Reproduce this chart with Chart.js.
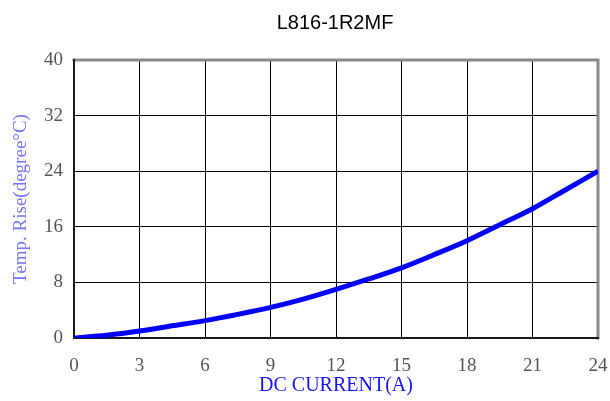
<!DOCTYPE html>
<html>
<head>
<meta charset="utf-8">
<script src="https://cdn.jsdelivr.net/npm/chart.js@4/dist/chart.umd.min.js"></script>
<style>
html,body{margin:0;padding:0;background:#fff;}
#wrap{width:610px;height:401px;position:relative;}
</style>
</head>
<body>
<div id="wrap"><canvas id="c" width="610" height="401"></canvas></div>
<script>
const chartTitle = "L816-1R2MF";
const xAxisTitle = "DC CURRENT(A)";
const yAxisTitle = "Temp. Rise(degree\u00B0C)";
const currentA = [0, 1.5, 3, 4.5, 6, 7.5, 9, 10.5, 12, 13.5, 15, 16.5, 18, 19.5, 21, 22.5, 24];
const tempRise = [0, 0.4, 1.0, 1.75, 2.5, 3.4, 4.4, 5.6, 7.0, 8.5, 10.1, 12.0, 14.0, 16.3, 18.6, 21.3, 24];
const xTicks = [0, 3, 6, 9, 12, 15, 18, 21, 24];
const yTicks = [0, 8, 16, 24, 32, 40];

const points = currentA.map((x, i) => ({x: x, y: tempRise[i]}));

const framePlugin = {
  id: 'frame',
  beforeDatasetsDraw(chart) {
    const {ctx, chartArea: a} = chart;
    ctx.save();
    ctx.lineCap = 'square';
    ctx.strokeStyle = '#8a8a8a';
    ctx.lineWidth = 3;
    ctx.beginPath();
    ctx.moveTo(a.left, a.top);
    ctx.lineTo(a.right, a.top);
    ctx.lineTo(a.right, a.bottom);
    ctx.stroke();
    ctx.strokeStyle = '#1a1a1a';
    ctx.lineWidth = 2;
    ctx.beginPath();
    ctx.moveTo(a.left, a.top);
    ctx.lineTo(a.left, a.bottom);
    ctx.lineTo(a.right, a.bottom);
    ctx.stroke();
    ctx.restore();
  },
  afterDraw(chart) {
    const {ctx} = chart;
    ctx.save();
    ctx.fillStyle = '#000';
    ctx.font = '20px "Liberation Sans", Arial, sans-serif';
    ctx.textAlign = 'center';
    ctx.textBaseline = 'middle';
    ctx.fillText(chartTitle, 335, 23);
    ctx.restore();
  }
};

new Chart(document.getElementById('c'), {
  type: 'line',
  data: {
    datasets: [{
      data: points,
      borderColor: '#0000ff',
      borderWidth: 5,
      pointRadius: 0,
      fill: false,
      tension: 0.3
    }]
  },
  options: {
    responsive: false,
    animation: false,
    devicePixelRatio: 1,
    layout: {padding: {top: 60, right: 12, left: 0, bottom: 0}},
    plugins: {legend: {display: false}, tooltip: {enabled: false}, title: {display: false}},
    scales: {
      x: {
        type: 'linear',
        min: 0, max: 24,
        afterBuildTicks(s) { s.ticks = xTicks.map(v => ({value: v})); },
        afterFit(s) { s.height = 63; s.paddingLeft = 0; s.paddingRight = 0; },
        grid: {color: '#000', lineWidth: 1, drawTicks: false},
        border: {display: false},
        ticks: {
          padding: 17,
          color: '#555',
          font: {family: '"Liberation Serif", "Times New Roman", serif', size: 19}
        },
        title: {
          display: true, text: xAxisTitle, color: '#1414ff',
          font: {family: '"Liberation Serif", "Times New Roman", serif', size: 20},
          padding: {top: 0, bottom: 3}
        }
      },
      y: {
        min: 0, max: 40,
        afterBuildTicks(s) { s.ticks = yTicks.map(v => ({value: v})); },
        afterFit(s) { s.width = 74; s.paddingTop = 0; s.paddingBottom = 0; },
        grid: {color: '#000', lineWidth: 1, drawTicks: false},
        border: {display: false},
        ticks: {
          padding: 11,
          color: '#555',
          font: {family: '"Liberation Serif", "Times New Roman", serif', size: 19}
        },
        title: {
          display: true, text: yAxisTitle, color: '#7474ff',
          font: {family: '"Liberation Serif", "Times New Roman", serif', size: 19},
          padding: {top: 10, bottom: 0}
        }
      }
    }
  },
  plugins: [framePlugin]
});
</script>
</body>
</html>
